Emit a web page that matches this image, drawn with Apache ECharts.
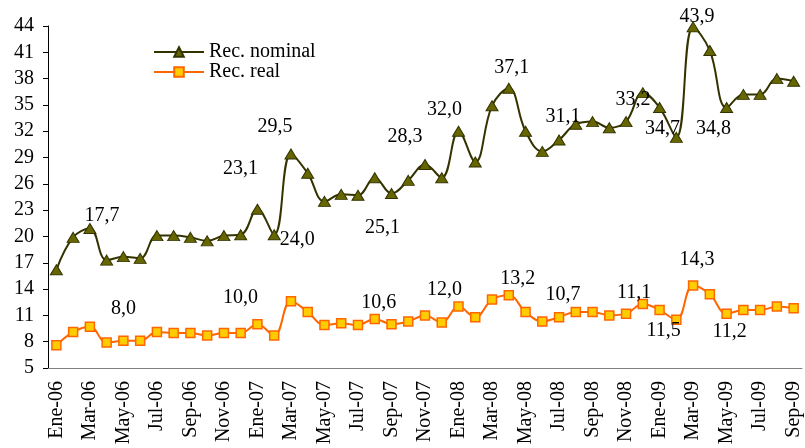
<!DOCTYPE html>
<html><head><meta charset="utf-8">
<script src="https://cdn.jsdelivr.net/npm/echarts@6/dist/echarts.min.js"></script>
<style>html,body{margin:0;padding:0;background:#fff}#c{width:805px;height:448px}</style>
</head><body><div id="c"></div>
<script>
// ---- data ----
const months = ['Ene','Feb','Mar','Abr','May','Jun','Jul','Ago','Sep','Oct','Nov','Dic'];
const years = ['06','07','08','09'];
const categories = [];
years.forEach(y => months.forEach(m => categories.push(m + '-' + y)));
categories.length = 45; // Ene-06 .. Sep-09

const recNominal = [16.2,19.9,20.9,17.3,17.7,17.5,20.1,20.1,19.9,19.5,20.1,20.2,
                    23.1,20.2,29.4,27.2,24.0,24.8,24.7,26.7,24.9,26.4,28.2,26.7,
                    32.0,28.5,34.9,36.9,32.0,29.7,31.0,32.8,33.1,32.4,33.1,36.4,
                    34.7,31.3,43.9,41.2,34.7,36.2,36.2,38.0,37.7];
const recReal = [7.6,9.1,9.7,7.9,8.1,8.1,9.1,9.0,9.0,8.7,9.0,9.0,
                 10.0,8.7,12.6,11.4,9.9,10.1,9.9,10.6,10.0,10.3,11.0,10.2,
                 12.0,10.8,12.8,13.3,11.4,10.3,10.8,11.4,11.4,11.0,11.2,12.3,
                 11.6,10.5,14.4,13.4,11.2,11.6,11.6,12.0,11.8];

const nominalLabelIdx  = [2,12,14,13,20,22,24,27,30,34,36,38,40];
const nominalLabelText = ['17,7','23,1','29,5','24,0','25,1','28,3','32,0','37,1','31,1','33,2','34,7','43,9','34,8'];
const realLabelIdx  = [4,12,19,24,27,30,34,36,38,40];
const realLabelText = ['8,0','10,0','10,6','12,0','13,2','10,7','11,1','11,5','14,3','11,2'];

const yTickLabels = ['5','8','11','14','17','20','23','26','29','32','35','38','41','44'];

// ---- layout (label placement offsets) ----
const nominalLabelOffset = [[12,-13],[-17,-41],[-16,-27],[23,5],[-9,34],[-20,-28],[-14,-21],[3,-21],[4,-23],[7,-22],[3,21],[4,-10],[-13,21]];
const realLabelOffset = [[0,-32],[-17,-26],[4,-16],[-14,-17],[9,-16],[4,-22],[8,-21],[4,21],[4,-26],[3,18]];

const FONT = 'Liberation Serif';
function build(values, idxs, texts, offs) {
  return values.map((v, i) => {
    const k = idxs.indexOf(i);
    if (k < 0) return v;
    return {value: v, label: {show: true, position: 'inside', formatter: texts[k], offset: offs[k],
      color: '#000', fontFamily: FONT, fontSize: 20}};
  });
}

const chart = echarts.init(document.getElementById('c'));
chart.setOption({
  animation: false,
  backgroundColor: '#fff',
  grid: {left: 48, right: 3, top: 26, bottom: 80},
  legend: {
    orient: 'vertical', left: 148, top: 37, itemWidth: 50, itemHeight: 12, itemGap: 0,
    textStyle: {fontFamily: FONT, fontSize: 20, color: '#000', lineHeight: 19},
    data: ['Rec. nominal', 'Rec. real']
  },
  xAxis: {
    type: 'category', data: categories, boundaryGap: true,
    axisLine: {lineStyle: {color: '#808080', width: 1}},
    axisTick: {interval: 1, length: 6, lineStyle: {color: '#000'}},
    axisLabel: {interval: 1, rotate: 90, margin: 13, fontFamily: FONT, fontSize: 20, color: '#000'},
    splitLine: {show: false}
  },
  yAxis: [
    {type: 'value', min: 5, max: 44, show: false, splitLine: {show: false}},
    {type: 'value', position: 'left', min: 0, max: 39, interval: 3,
     axisLine: {show: true, lineStyle: {color: '#000'}},
     axisTick: {show: true, length: 5, lineStyle: {color: '#000'}},
     axisLabel: {margin: 14, fontFamily: FONT, fontSize: 20, color: '#000',
       formatter: v => yTickLabels[Math.round(v / 3)]},
     splitLine: {show: false}}
  ],
  series: [
    {name: 'Rec. nominal', type: 'line', yAxisIndex: 0, smooth: 0.4,
     data: build(recNominal, nominalLabelIdx, nominalLabelText, nominalLabelOffset),
     symbol: 'triangle', symbolSize: [12, 10],
     lineStyle: {color: '#333300', width: 2},
     itemStyle: {color: '#666600', borderColor: '#333300', borderWidth: 1}},
    {name: 'Rec. real', type: 'line', yAxisIndex: 0, smooth: 0.4,
     data: build(recReal, realLabelIdx, realLabelText, realLabelOffset),
     symbol: 'rect', symbolSize: 9,
     lineStyle: {color: '#FF6600', width: 2},
     itemStyle: {color: '#FFCC00', borderColor: '#FF6600', borderWidth: 1.5}}
  ]
});
</script></body></html>
